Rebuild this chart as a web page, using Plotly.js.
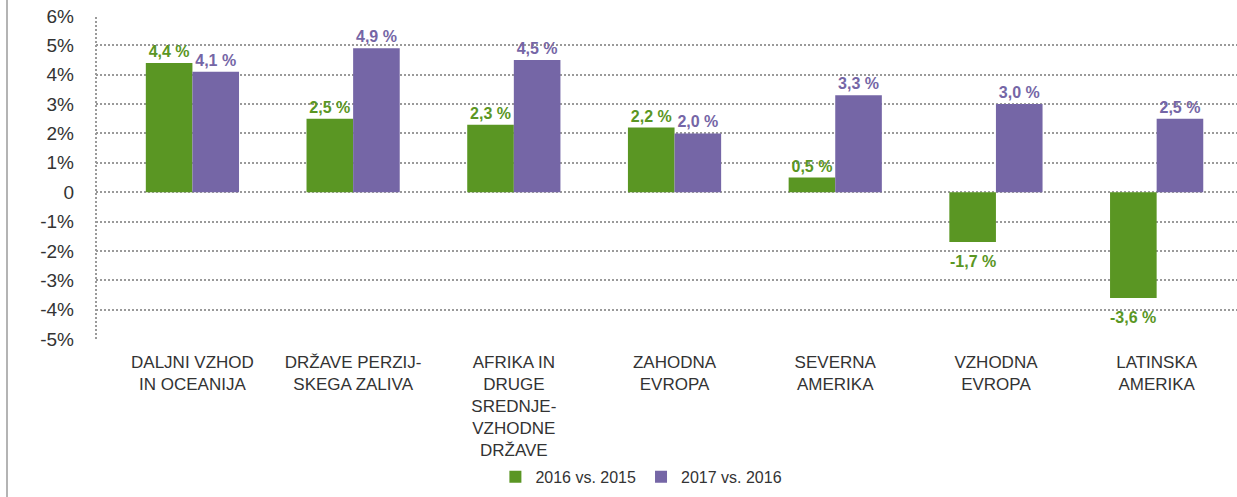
<!DOCTYPE html>
<html>
<head>
<meta charset="utf-8">
<script src="https://cdn.plot.ly/plotly-3.0.1.min.js"></script>
<style>
html,body{margin:0;padding:0;background:#fff;}
#chart{width:1237px;height:497px;}
</style>
</head>
<body>
<div id="chart"></div>
<script>
const categories = [
  "DALJNI VZHOD<br>IN OCEANIJA",
  "DRŽAVE PERZIJ-<br>SKEGA ZALIVA",
  "AFRIKA IN<br>DRUGE<br>SREDNJE-<br>VZHODNE<br>DRŽAVE",
  "ZAHODNA<br>EVROPA",
  "SEVERNA<br>AMERIKA",
  "VZHODNA<br>EVROPA",
  "LATINSKA<br>AMERIKA"
];
const series2016 = [4.4, 2.5, 2.3, 2.2, 0.5, -1.7, -3.6];
const series2017 = [4.1, 4.9, 4.5, 2.0, 3.3, 3.0, 2.5];
const seriesNames = ["2016 vs. 2015", "2017 vs. 2016"];
const yTickValues = [-5, -4, -3, -2, -1, 0, 1, 2, 3, 4, 5, 6];
const yTickLabels = ["-5%", "-4%", "-3%", "-2%", "-1%", "0", "1%", "2%", "3%", "4%", "5%", "6%"];

const GREEN = "#5a9623";
const PURPLE = "#7566a6";
const FONT = "'Liberation Sans', Arial, Helvetica, sans-serif";
const fmt = v => v.toFixed(1).replace(".", ",") + " %";

// positive values labelled by the bar trace itself, negative ones by annotations below the bar
const posText = arr => arr.map(v => v >= 0 ? fmt(v) : "");

const traces = [
  {
    type: "bar", name: seriesNames[0], x: categories, y: series2016,
    marker: {color: GREEN},
    text: posText(series2016), textposition: "outside", cliponaxis: false,
    textfont: {family: FONT, size: 16, color: GREEN, weight: "bold"},
    hoverinfo: "skip"
  },
  {
    type: "bar", name: seriesNames[1], x: categories, y: series2017,
    marker: {color: PURPLE},
    text: posText(series2017), textposition: "outside", cliponaxis: false,
    textfont: {family: FONT, size: 16, color: PURPLE, weight: "bold"},
    hoverinfo: "skip"
  }
];

const annotations = [];
[[series2016, GREEN, -23.3], [series2017, PURPLE, 23.3]].forEach(([arr, col, dx]) => {
  arr.forEach((v, i) => {
    if (v < 0) {
      annotations.push({
        x: categories[i], y: v, xref: "x", yref: "y",
        text: fmt(v), showarrow: false, xanchor: "center", yanchor: "top",
        xshift: dx, yshift: -9,
        font: {family: FONT, size: 16, color: col, weight: "bold"}
      });
    }
  });
});

const layout = {
  width: 1237, height: 497,
  margin: {l: 96, r: 0, t: 16, b: 158},
  paper_bgcolor: "#fff", plot_bgcolor: "#fff",
  font: {family: FONT, color: "#333"},
  barmode: "group", bargap: 0.42, bargroupgap: 0,
  showlegend: true,
  legend: {
    orientation: "h", x: 0.478, xanchor: "center", y: -0.427, yanchor: "middle",
    bgcolor: "rgba(0,0,0,0)",
    font: {family: FONT, size: 16, color: "#333"}, itemwidth: 30,
    traceorder: "normal"
  },
  xaxis: {
    type: "category", range: [-0.6, 6.5], fixedrange: true,
    showgrid: false, zeroline: false, showline: false, ticks: "",
    tickfont: {family: FONT, size: 17, color: "#333"},
    ticklabelstandoff: 11, tickangle: 0
  },
  yaxis: {
    range: [-5, 6], fixedrange: true,
    tickvals: yTickValues, ticktext: yTickLabels,
    showgrid: true, gridcolor: "#9a9a9a", gridwidth: 2, griddash: "2px,2px",
    zeroline: false, showline: false, ticks: "",
    tickfont: {family: FONT, size: 19, color: "#333"},
    ticklabelstandoff: 21
  },
  annotations: annotations,
  shapes: [
    {type: "line", xref: "paper", yref: "paper", x0: 0, x1: 0, y0: 0, y1: 1,
     line: {color: "#9a9a9a", width: 2, dash: "2px,2px"}},
    {type: "line", xref: "paper", yref: "paper", x0: -0.078, x1: -0.078, y0: -0.5, y1: 1.06,
     line: {color: "#b4b4b4", width: 2}}
  ],
  hovermode: false
};

Plotly.newPlot("chart", traces, layout, {displayModeBar: false, staticPlot: true});
</script>
</body>
</html>
